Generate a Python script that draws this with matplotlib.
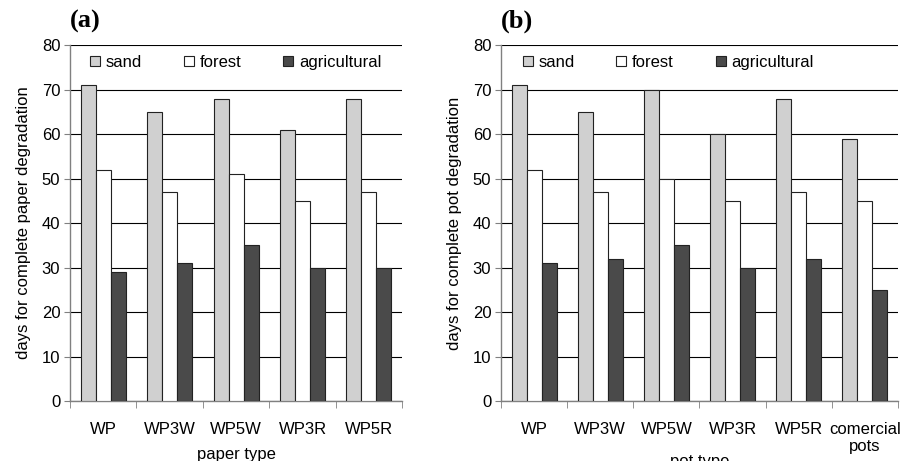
import numpy as np
import matplotlib.pyplot as plt

plt.rcParams['font.family'] = ['Liberation Sans', 'DejaVu Sans']

# data
paper_types = ['WP', 'WP3W', 'WP5W', 'WP3R', 'WP5R']
paper_sand = [71, 65, 68, 61, 68]
paper_forest = [52, 47, 51, 45, 47]
paper_agri = [29, 31, 35, 30, 30]

pot_types = ['WP', 'WP3W', 'WP5W', 'WP3R', 'WP5R', 'comercial\npots']
pot_sand = [71, 65, 70, 60, 68, 59]
pot_forest = [52, 47, 50, 45, 47, 45]
pot_agri = [31, 32, 35, 30, 32, 25]

soils = ['sand', 'forest', 'agricultural']
colors = ['#d0d0d0', '#ffffff', '#4a4a4a']

fs = 12

fig = plt.figure(figsize=(9, 4.61), dpi=100)
ax1 = fig.add_axes([0.0778, 0.130, 0.369, 0.772])
ax2 = fig.add_axes([0.5567, 0.130, 0.441, 0.772])


def draw(ax, cats, series, ylabel, xlabel, tag, xlpad):
    n = len(cats)
    x = np.arange(n)
    w = 0.226
    for i, vals in enumerate(series):
        ax.bar(x + (i - 1) * w, vals, w, color=colors[i], edgecolor='#222222',
               linewidth=0.8, label=soils[i], zorder=3)
    ax.set_xlim(-0.5, n - 0.5)
    ax.set_ylim(0, 80)
    ax.set_yticks(np.arange(0, 81, 10))
    ax.yaxis.grid(True, color='black', linewidth=0.8, zorder=0)
    ax.set_axisbelow(True)
    for s in ['top', 'right']:
        ax.spines[s].set_visible(False)
    for s in ['left', 'bottom']:
        ax.spines[s].set_color('#808080')
        ax.spines[s].set_linewidth(1.0)
    ax.set_xticks(x)
    ax.set_xticklabels(cats, fontsize=fs, linespacing=1.2)
    ax.tick_params(axis='x', which='major', length=0, pad=15)
    ax.set_xticks(np.arange(n + 1) - 0.5, minor=True)
    ax.tick_params(axis='x', which='minor', length=5, color='#808080')
    ax.tick_params(axis='y', length=4, color='#808080', labelsize=fs, pad=3)
    ax.set_ylabel(ylabel, fontsize=fs, labelpad=8)
    ax.set_xlabel(xlabel, fontsize=fs, labelpad=xlpad)
    ax.legend(loc='upper left', bbox_to_anchor=(0.025, 1.005), ncol=3, frameon=False,
              fontsize=fs, handlelength=0.6, handleheight=0.6, handletextpad=0.35,
              columnspacing=2.5, borderaxespad=0.3)
    ax.text(0.0, 1.035, tag, transform=ax.transAxes, fontsize=19, fontweight='bold',
            family='Liberation Serif', va='bottom', ha='left')


draw(ax1, paper_types, [paper_sand, paper_forest, paper_agri],
     'days for complete paper degradation', 'paper type', '(a)', 7)
draw(ax2, pot_types, [pot_sand, pot_forest, pot_agri],
     'days for complete pot degradation', 'pot type', '(b)', 0)

fig.savefig('out.png', dpi=100)
